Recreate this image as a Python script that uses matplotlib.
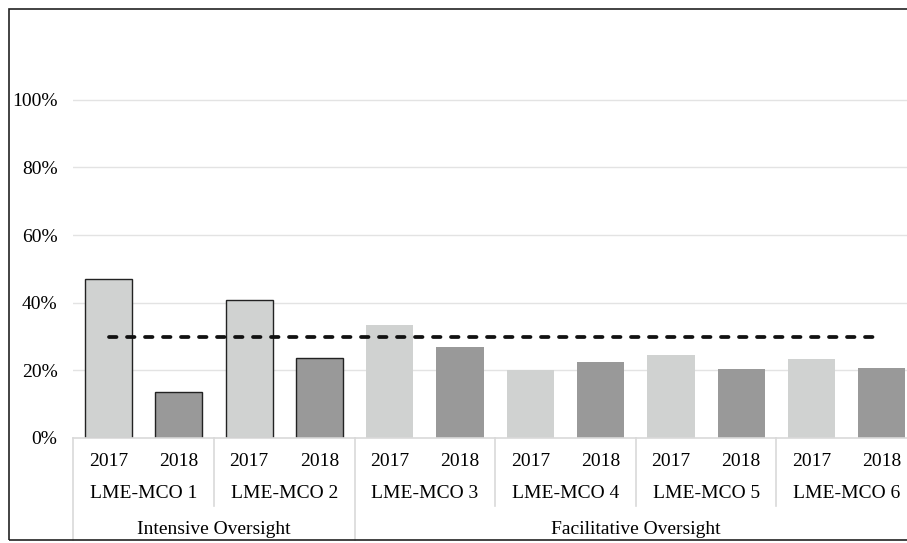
import matplotlib

matplotlib.use("Agg")
import matplotlib.pyplot as plt
import matplotlib.transforms as mtransforms
from matplotlib.patches import Rectangle
import numpy as np

plt.rcParams["font.family"] = ["Liberation Serif", "DejaVu Serif"]

years = ["2017", "2018"] * 6
plans = ["LME-MCO 1", "LME-MCO 2", "LME-MCO 3", "LME-MCO 4", "LME-MCO 5", "LME-MCO 6"]
oversight = ["Intensive Oversight", "Facilitative Oversight"]
plans_per_oversight = [2, 4]
values = [0.47, 0.137, 0.408, 0.237, 0.334, 0.269, 0.201, 0.225, 0.245, 0.204, 0.234, 0.207]
benchmark = [0.30] * 12
outlined = [True, True, True, True, False, False, False, False, False, False, False, False]

LIGHT = "#d0d2d1"
DARK = "#999999"
SEP = "#d9d9d9"
FS = 14.0
W, H = 907, 543

fig = plt.figure(figsize=(W / 100, H / 100), dpi=100)
ax = fig.add_axes([73.4 / W, 1 - 438 / H, (917 - 73.4) / W, (438 - 32) / H])

x = np.arange(len(values))
colors = [LIGHT if y == "2017" else DARK for y in years]
for xi, v, c, o in zip(x, values, colors, outlined):
    ax.bar(xi, v, width=0.67, color=c,
           edgecolor="#222222" if o else "none", linewidth=1.0 if o else 0, zorder=2)

ax.plot(x, benchmark, color="#111111", linewidth=2.7, dashes=(2.0, 2.8),
        dash_capstyle="round", zorder=3)

ax.set_xlim(-0.5, len(values) - 0.5)
ax.set_ylim(0, 1.2)
ax.set_yticks([0, 0.2, 0.4, 0.6, 0.8, 1.0])
ax.set_yticklabels(["0%", "20%", "40%", "60%", "80%", "100%"])
ax.set_xticks([])
ax.tick_params(axis="y", length=0, pad=11.5, labelsize=FS)
for yv in [0.2, 0.4, 0.6, 0.8, 1.0]:
    ax.axhline(yv, color="#e3e3e3", linewidth=1.0, zorder=0)
for side in ["top", "left", "right"]:
    ax.spines[side].set_visible(False)
ax.spines["bottom"].set_color(SEP)
ax.spines["bottom"].set_linewidth(1.2)

# multi-level category labels under the axis
trans = mtransforms.blended_transform_factory(ax.transData, fig.transFigure)


def fy(px):
    return 1 - px / H


for xi, lab in zip(x, years):
    ax.text(xi, fy(461), lab, transform=trans, ha="center", va="center", fontsize=FS)
for i, lab in enumerate(plans):
    ax.text(2 * i + 0.5, fy(494), lab, transform=trans, ha="center", va="center", fontsize=FS)
start = 0
for lab, n in zip(oversight, plans_per_oversight):
    end = start + 2 * n
    ax.text((start + end - 1) / 2, fy(529), lab, transform=trans, ha="center", va="center",
            fontsize=FS)
    start = end

# separators
group_edges = [-0.5 + 2 * i for i in range(len(plans) + 1)]
major_edges = [-0.5]
acc = 0
for n in plans_per_oversight:
    acc += 2 * n
    major_edges.append(acc - 0.5)
for xe in group_edges:
    bottom = 540 if xe in major_edges else 506
    ax.plot([xe, xe], [fy(438), fy(bottom)], transform=trans, color=SEP,
            linewidth=1.2, clip_on=False)

# outer border of the chart
fig.add_artist(Rectangle((9 / W, 3 / H), 1.2, 531 / H, transform=fig.transFigure,
                         fill=False, edgecolor="#222222", linewidth=1.2))

fig.savefig("out.png", dpi=100)
plt.close(fig)
